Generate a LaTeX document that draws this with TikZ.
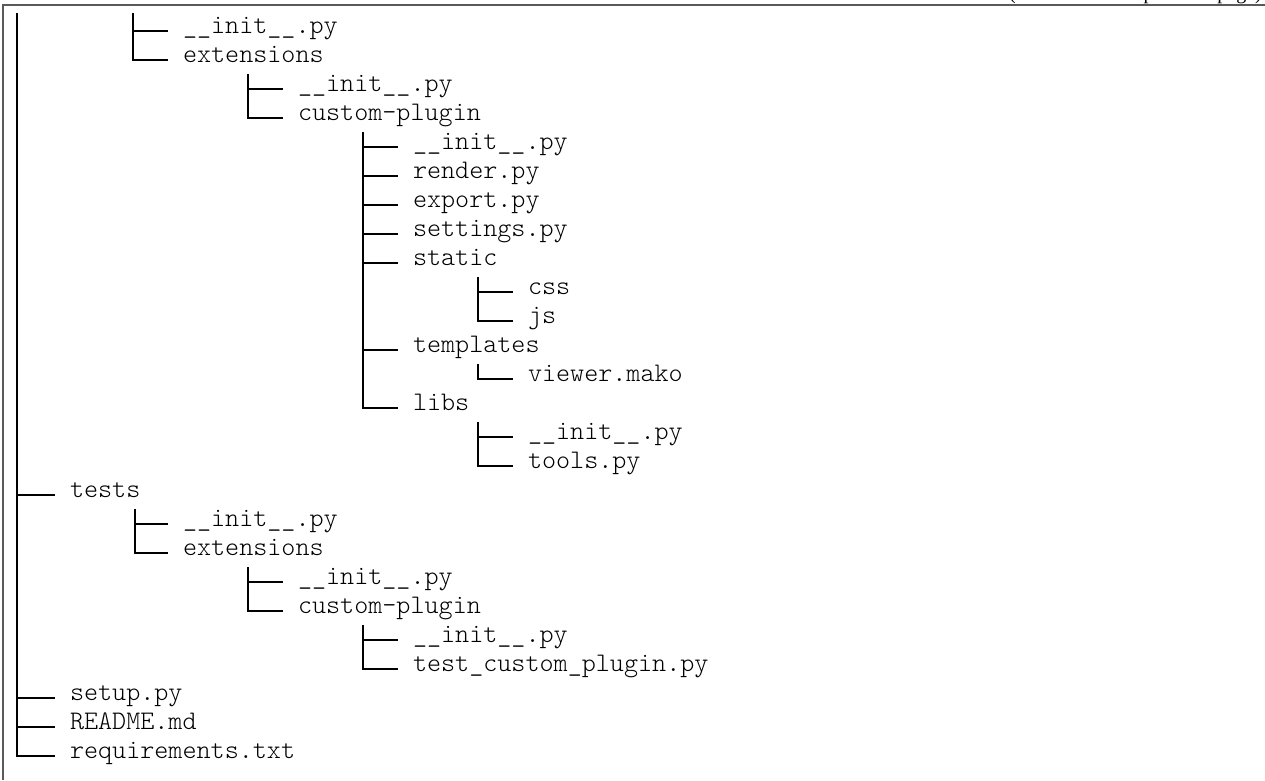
\documentclass[tikz,border=0pt]{standalone}
\usepackage{fontspec}
\setmonofont{Latin Modern Mono Light}
\setmainfont{Liberation Serif}
\begin{document}
\begin{tikzpicture}[x=1pt,y=-1pt,
  entry/.style={anchor=mid west,inner sep=0pt,outer sep=0pt,font=\ttfamily\fontsize{26.8}{30}\selectfont},
  branch/.style={line width=1.3pt,black},
  frameline/.style={line width=1.5pt,black!65}]
\useasboundingbox (0,0) rectangle (1265,780);
% frame and continuation note
\draw[frameline] (3,780) -- (3,5) -- (1265,5);
\node[anchor=base east,inner sep=0pt,font=\fontsize{20}{24}\selectfont] (cont) at (1262,-0.5) {(continued from previous page)};
% entries
\node[entry] (r0)  at (183, 31) {\_\_init\_\_.py};
\node[entry] (r1)  at (183, 60) {extensions};
\node[entry] (r2)  at (298, 89) {\_\_init\_\_.py};
\node[entry] (r3)  at (298,118) {custom-plugin};
\node[entry] (r4)  at (413,147) {\_\_init\_\_.py};
\node[entry] (r5)  at (413,176) {render.py};
\node[entry] (r6)  at (413,205) {export.py};
\node[entry] (r7)  at (413,234) {settings.py};
\node[entry] (r8)  at (413,263) {static};
\node[entry] (r9)  at (528,292) {css};
\node[entry] (r10) at (528,321) {js};
\node[entry] (r11) at (413,350) {templates};
\node[entry] (r12) at (528,379) {viewer.mako};
\node[entry] (r13) at (413,408) {libs};
\node[entry] (r14) at (528,437) {\_\_init\_\_.py};
\node[entry] (r15) at (528,466) {tools.py};
\node[entry] (r16) at (70,495)  {tests};
\node[entry] (r17) at (183,524) {\_\_init\_\_.py};
\node[entry] (r18) at (183,553) {extensions};
\node[entry] (r19) at (298,582) {\_\_init\_\_.py};
\node[entry] (r20) at (298,611) {custom-plugin};
\node[entry] (r21) at (413,640) {\_\_init\_\_.py};
\node[entry] (r22) at (413,669) {test\_custom\_plugin.py};
\node[entry] (r23) at (70,698)  {setup.py};
\node[entry] (r24) at (70,727)  {README.md};
\node[entry] (r25) at (70,756)  {requirements.txt};
% tops of branches continued from previous page
\coordinate (top1) at (17,13);
\coordinate (top2) at (133,13);
% branches
\foreach \c in {r16,r23,r24,r25} \draw[branch] (top1) |- ([xshift=-15pt]\c.mid west);
\foreach \c in {r0,r1} \draw[branch] (top2) |- ([xshift=-15pt]\c.mid west);
\foreach \p/\c in {r1/r2,r1/r3,r3/r4,r3/r5,r3/r6,r3/r7,r3/r8,r3/r11,r3/r13,
  r8/r9,r8/r10,r11/r12,r13/r14,r13/r15,r16/r17,r16/r18,r18/r19,r18/r20,r20/r21,r20/r22}
  \draw[branch] ([shift={(65,14)}]\p.mid west) |- ([xshift=-15pt]\c.mid west);
\end{tikzpicture}
\end{document}
